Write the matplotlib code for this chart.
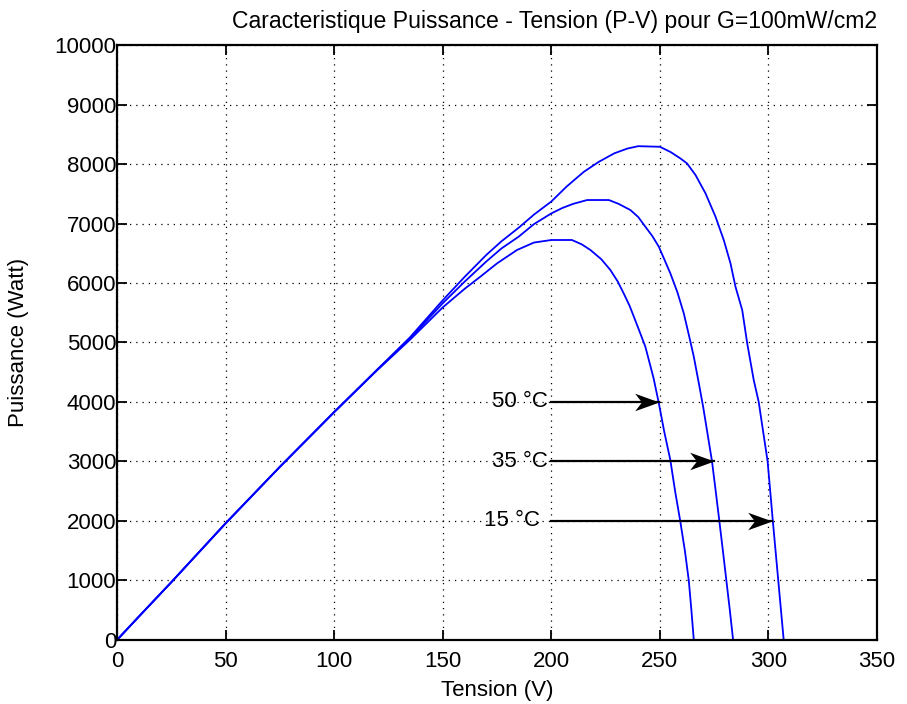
import matplotlib
matplotlib.use("Agg")
import matplotlib.pyplot as plt
from matplotlib.path import Path

plt.rcParams["font.family"] = ["Liberation Sans", "DejaVu Sans"]

# P-V curves, one per temperature
v_15 = [0, 10, 25, 50, 75, 100, 120, 135, 150, 160, 170, 177, 185, 192, 200, 207, 215, 222, 229,
        235, 240, 250, 255, 259.4, 262.5, 266.4, 271, 275.6, 279.4, 282.5, 284.8, 287.9, 290.2,
        293.2, 295.5, 299.6, 302, 304.5, 307]
p_15 = [0, 390, 970, 1960, 2910, 3830, 4550, 5090, 5710, 6100, 6470, 6700, 6930, 7150, 7370, 7620,
        7870, 8040, 8180, 8260, 8300, 8290, 8200, 8095, 8010, 7815, 7507, 7115, 6723, 6331, 5938,
        5546, 4986, 4370, 4000, 3000, 2000, 1000, 0]

v_35 = [0, 10, 25, 50, 75, 100, 120, 135, 150, 160, 170, 177, 185, 192, 200, 205, 210, 216.5,
        226.5, 231, 236.4, 240, 243.3, 246.5, 249.5, 252, 254.8, 258, 261, 263.5, 265.6, 268, 270,
        272, 274, 275.7, 277.4, 279, 280.6, 282.2, 283.7]
p_35 = [0, 390, 970, 1960, 2910, 3830, 4550, 5070, 5660, 6020, 6360, 6580, 6780, 6990, 7170, 7260,
        7330, 7395, 7395, 7330, 7227, 7110, 6946, 6790, 6610, 6400, 6163, 5850, 5490, 5100, 4762,
        4300, 3900, 3450, 3000, 2500, 1990, 1500, 1000, 500, 0]

v_50 = [0, 10, 25, 50, 75, 100, 120, 135, 150, 160, 167.3, 175, 184.2, 192, 200, 209.5, 214, 218,
        223, 227.2, 230.5, 233.3, 236, 238, 241, 243.3, 245.3, 247.1, 249.5, 252, 254.8, 257,
        259.4, 261.5, 263.3, 264.5, 265.6]
p_50 = [0, 390, 970, 1960, 2910, 3830, 4540, 5050, 5590, 5900, 6106, 6330, 6555, 6680, 6723, 6723,
        6650, 6555, 6400, 6218, 6030, 5827, 5620, 5434, 5150, 4929, 4650, 4398, 3980, 3500, 3025,
        2500, 1990, 1500, 1000, 500, 0]

labels = ["50 \u00b0C", "35 \u00b0C", "15 \u00b0C"]
label_v = [198.5, 198.5, 195]
tips_v = [249.4, 274.8, 301.8]
tips_p = [4000, 3000, 2000]
tail_v = 200

xticks = list(range(0, 351, 50))
yticks = list(range(0, 10001, 1000))

# barbed arrow head, tip at the origin, pointing right
head = Path([(0, 0), (-1, 0.36), (-0.72, 0), (-1, -0.36), (0, 0)],
            [Path.MOVETO, Path.LINETO, Path.LINETO, Path.LINETO, Path.CLOSEPOLY])

fig = plt.figure(figsize=(9.07, 7.04), dpi=100)
ax = fig.add_axes([0.129, 0.091, 0.838, 0.845])

for v, p in [(v_15, p_15), (v_35, p_35), (v_50, p_50)]:
    ax.plot(v, p, color="#0000ff", lw=1.3)

for lab, lv, tv, tp in zip(labels, label_v, tips_v, tips_p):
    ax.plot([tail_v, tv], [tp, tp], color="k", lw=1.6)
    ax.plot([tv], [tp], marker=head, ms=35, color="k", mew=0, ls="none")
    ax.text(lv, tp, lab, ha="right", va="center", fontsize=16)

ax.set_xlim(0, 350)
ax.set_ylim(0, 10000)
ax.set_xticks(xticks)
ax.set_yticks(yticks)
ax.grid(True, color="k", ls=(0, (1, 4)), lw=0.9)
ax.tick_params(direction="in", top=True, right=True, length=7, width=1.3,
               labelsize=16)
ax.tick_params(axis="x", pad=8)
ax.tick_params(axis="y", pad=0.5)
for s in ax.spines.values():
    s.set_linewidth(1.6)

ax.set_xlabel("Tension (V)", fontsize=16, labelpad=6)
ax.set_ylabel("Puissance (Watt)", fontsize=16, labelpad=18)
ax.text(1.0, 1.02, "Caracteristique Puissance - Tension (P-V) pour G=100mW/cm2",
        transform=ax.transAxes, ha="right", va="bottom", fontsize=16.6)

fig.savefig("out.png", dpi=100)
